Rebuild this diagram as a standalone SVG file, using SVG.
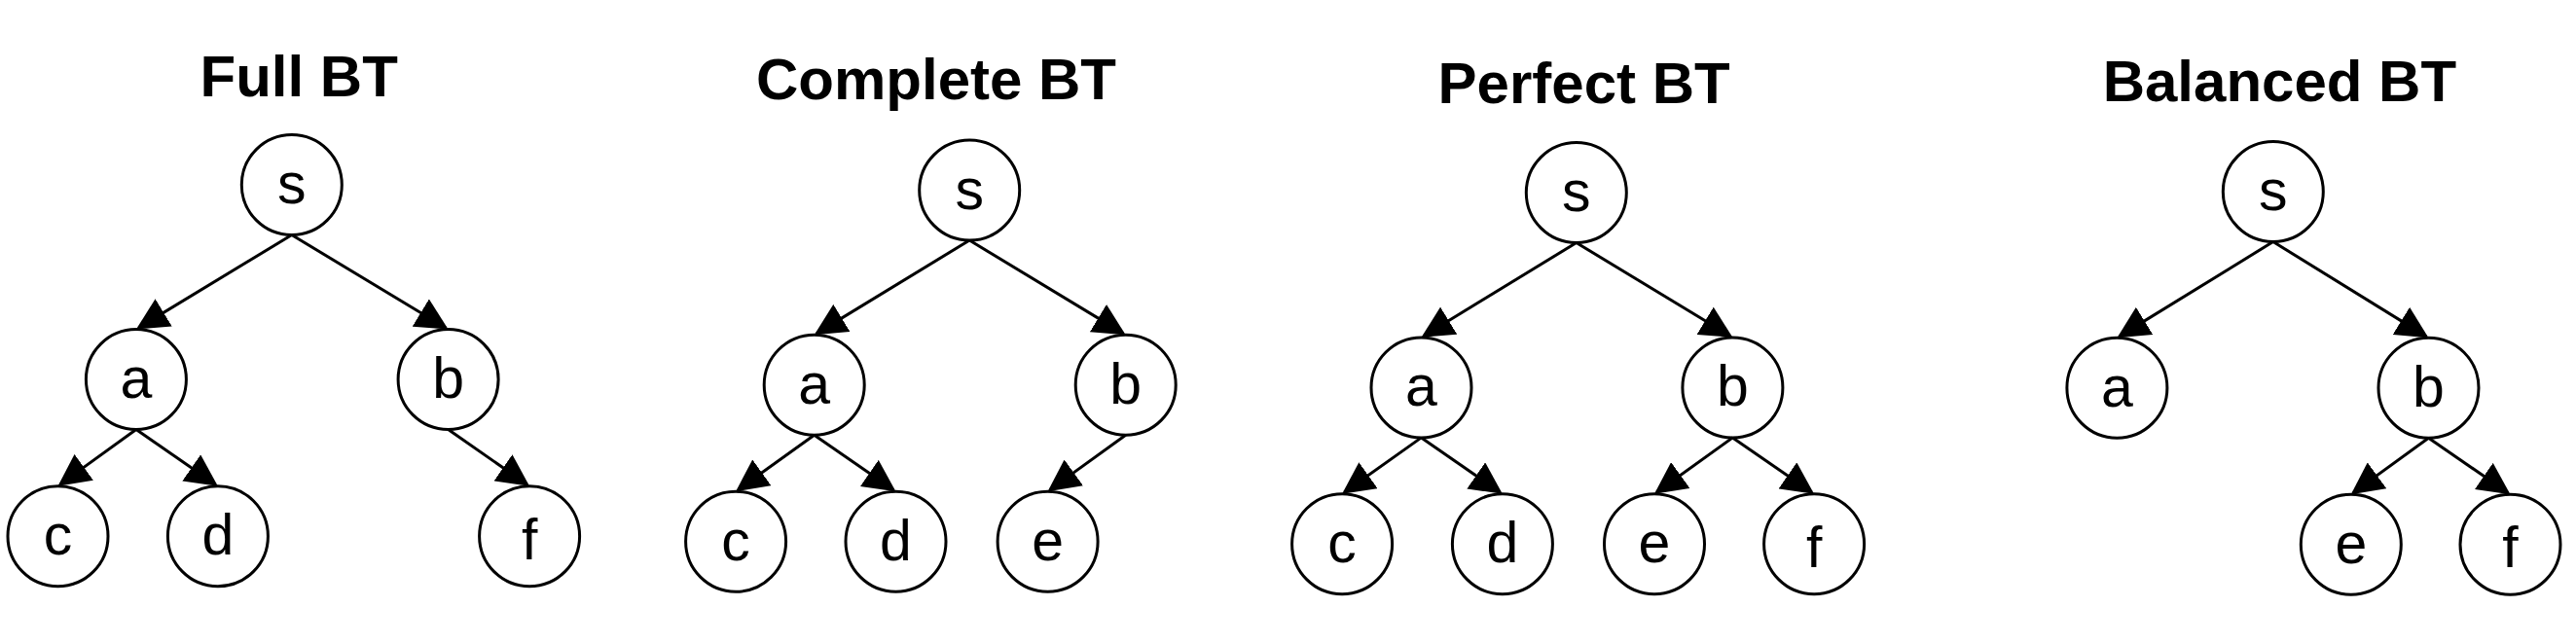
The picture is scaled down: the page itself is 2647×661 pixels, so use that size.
<svg xmlns="http://www.w3.org/2000/svg" width="2647" height="661" viewBox="0 0 2647 661">
<style>
.title{font-family:"Liberation Sans",Arial,sans-serif;font-weight:bold;font-size:60px;fill:#000;text-anchor:middle}
.node circle{fill:#fff;stroke:#000;stroke-width:3}
.node text{font-family:"Liberation Sans",Arial,sans-serif;font-size:59px;fill:#000;text-anchor:middle}
.edges line{stroke:#000;stroke-width:3;marker-end:url(#arr)}
</style>
<defs>
<marker id="arr" markerUnits="userSpaceOnUse" viewBox="0 0 33 33" markerWidth="33" markerHeight="33" refX="30" refY="16.5" orient="auto">
<path d="M0,0 L33,16.5 L0,33 Z" fill="#000"/>
</marker>
</defs>
<rect width="2647" height="661" fill="#fff"/>
<g id="titles">
<text class="title" x="307.2" y="98.8">Full BT</text>
<text class="title" x="962" y="102.2">Complete BT</text>
<text class="title" x="1627.6" y="106">Perfect BT</text>
<text class="title" x="2342.4" y="103.8">Balanced BT</text>
</g>
<g class="edges" id="connectors">
<line x1="299.8" y1="241.5" x2="142.5" y2="336.9"/>
<line x1="299.8" y1="241.5" x2="458.0" y2="337.0"/>
<line x1="139.9" y1="441.5" x2="61.9" y2="497.9"/>
<line x1="139.9" y1="441.5" x2="221.4" y2="498.0"/>
<line x1="460.6" y1="441.5" x2="541.6" y2="498.0"/>
<line x1="996.2" y1="247" x2="839.3" y2="342.6"/>
<line x1="996.2" y1="247" x2="1154.1" y2="342.6"/>
<line x1="836.7" y1="447.2" x2="758.5" y2="503.4"/>
<line x1="836.7" y1="447.2" x2="918.0" y2="503.5"/>
<line x1="1156.7" y1="447.2" x2="1079.0" y2="503.4"/>
<line x1="1619.8" y1="249.5" x2="1463.1" y2="345.3"/>
<line x1="1619.8" y1="249.5" x2="1777.8" y2="345.3"/>
<line x1="1460.5" y1="449.9" x2="1381.5" y2="506.0"/>
<line x1="1460.5" y1="449.9" x2="1541.4" y2="506.0"/>
<line x1="1780.4" y1="449.9" x2="1702.4" y2="506.0"/>
<line x1="1780.4" y1="449.9" x2="1861.6" y2="506.0"/>
<line x1="2335.8" y1="248.5" x2="2178.0" y2="345.6"/>
<line x1="2335.8" y1="248.5" x2="2492.9" y2="345.6"/>
<line x1="2495.5" y1="450.2" x2="2418.2" y2="506.4"/>
<line x1="2495.5" y1="450.2" x2="2577.0" y2="506.5"/>
</g>
<g id="t1-s" class="node"><circle cx="299.8" cy="190" r="51.5"/><text x="299.8" y="209">s</text></g>
<g id="t1-a" class="node"><circle cx="139.9" cy="390" r="51.5"/><text x="139.9" y="409">a</text></g>
<g id="t1-b" class="node"><circle cx="460.6" cy="390" r="51.5"/><text x="460.6" y="409">b</text></g>
<g id="t1-c" class="node"><circle cx="59.5" cy="551.2" r="51.5"/><text x="59.5" y="570.2">c</text></g>
<g id="t1-d" class="node"><circle cx="223.9" cy="551.2" r="51.5"/><text x="223.9" y="570.2">d</text></g>
<g id="t1-f" class="node"><circle cx="544.1" cy="551.2" r="51.5"/><text x="544.1" y="574.7">f</text></g>
<g id="t2-s" class="node"><circle cx="996.2" cy="195.5" r="51.5"/><text x="996.2" y="214.5">s</text></g>
<g id="t2-a" class="node"><circle cx="836.7" cy="395.7" r="51.5"/><text x="836.7" y="414.7">a</text></g>
<g id="t2-b" class="node"><circle cx="1156.7" cy="395.7" r="51.5"/><text x="1156.7" y="414.7">b</text></g>
<g id="t2-c" class="node"><circle cx="756.1" cy="556.7" r="51.5"/><text x="756.1" y="575.7">c</text></g>
<g id="t2-d" class="node"><circle cx="920.5" cy="556.7" r="51.5"/><text x="920.5" y="575.7">d</text></g>
<g id="t2-e" class="node"><circle cx="1076.6" cy="556.7" r="51.5"/><text x="1076.6" y="575.7">e</text></g>
<g id="t3-s" class="node"><circle cx="1619.8" cy="198" r="51.5"/><text x="1619.8" y="217">s</text></g>
<g id="t3-a" class="node"><circle cx="1460.5" cy="398.4" r="51.5"/><text x="1460.5" y="417.4">a</text></g>
<g id="t3-b" class="node"><circle cx="1780.4" cy="398.4" r="51.5"/><text x="1780.4" y="417.4">b</text></g>
<g id="t3-c" class="node"><circle cx="1379.1" cy="559.2" r="51.5"/><text x="1379.1" y="578.2">c</text></g>
<g id="t3-d" class="node"><circle cx="1543.9" cy="559.2" r="51.5"/><text x="1543.9" y="578.2">d</text></g>
<g id="t3-e" class="node"><circle cx="1700" cy="559.2" r="51.5"/><text x="1700" y="578.2">e</text></g>
<g id="t3-f" class="node"><circle cx="1864.1" cy="559.2" r="51.5"/><text x="1864.1" y="582.7">f</text></g>
<g id="t4-s" class="node"><circle cx="2335.8" cy="197" r="51.5"/><text x="2335.8" y="216">s</text></g>
<g id="t4-a" class="node"><circle cx="2175.4" cy="398.7" r="51.5"/><text x="2175.4" y="417.7">a</text></g>
<g id="t4-b" class="node"><circle cx="2495.5" cy="398.7" r="51.5"/><text x="2495.5" y="417.7">b</text></g>
<g id="t4-e" class="node"><circle cx="2415.8" cy="559.7" r="51.5"/><text x="2415.8" y="578.7">e</text></g>
<g id="t4-f" class="node"><circle cx="2579.5" cy="559.7" r="51.5"/><text x="2579.5" y="583.2">f</text></g>
</svg>
